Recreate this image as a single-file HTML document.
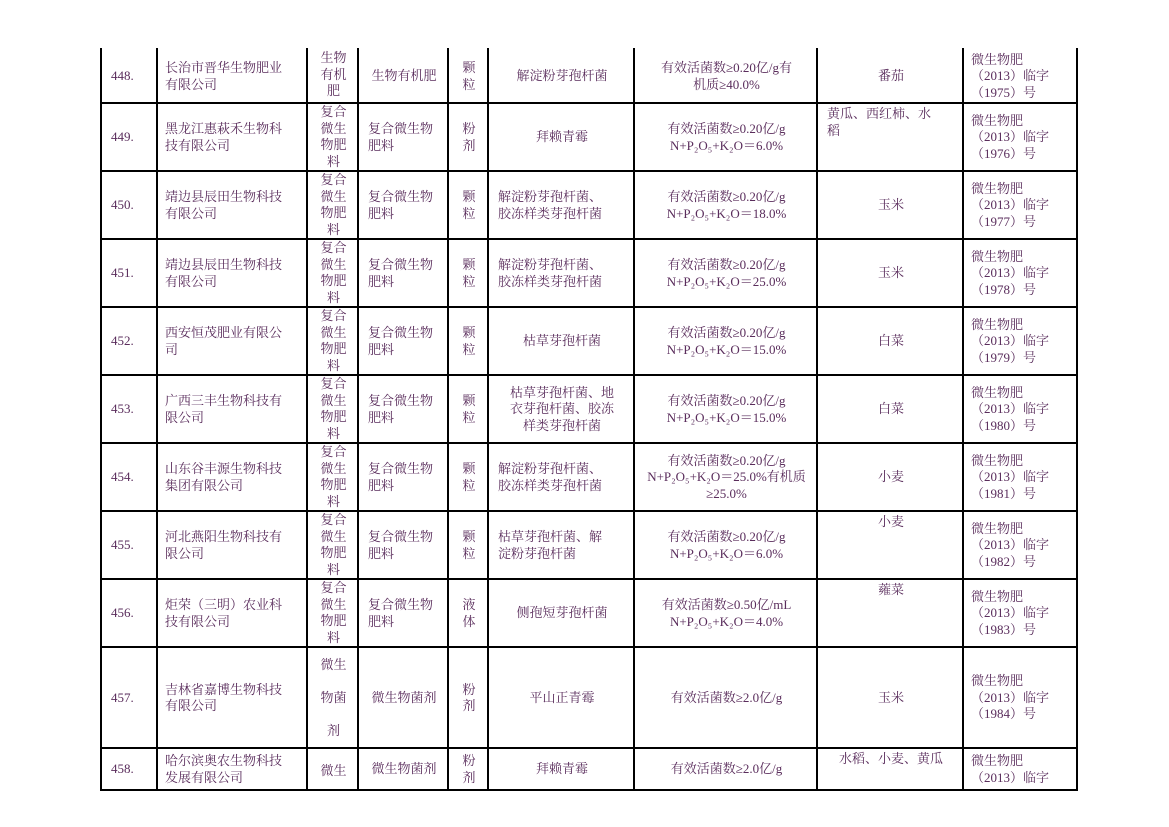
<!DOCTYPE html>
<html><head><meta charset="utf-8"><style>
body{margin:0;width:1169px;height:827px;background:#fff;position:relative;overflow:hidden;font-family:"Liberation Serif","Noto Serif CJK SC",serif;color:#5a2d5c;font-size:13px;}
.c{position:absolute;display:flex;flex-direction:column;justify-content:center;line-height:16.5px;overflow:hidden;box-sizing:border-box;}
.vl{position:absolute;top:48px;height:742px;width:2px;background:#000;}
.hl{position:absolute;left:100px;width:978px;height:2px;background:#000;}
</style></head><body>
<div id="t"></div>
<script>
const cols=[101,157,307,358,448,488,634,817,963,1077];
const rows=[48,103,171,239,307,375,443,511,579,647,748,790];
const data=[
["448.","长治市晋华生物肥业<br>有限公司","生物<br>有机<br>肥","生物有机肥","颗<br>粒","解淀粉芽孢杆菌","有效活菌数≥0.20亿/g有<br>机质≥40.0%","番茄","微生物肥<br>（2013）临字<br>（1975）号"],
["449.","黑龙江惠萩禾生物科<br>技有限公司","复合<br>微生<br>物肥<br>料","复合微生物<br>肥料","粉<br>剂","拜赖青霉","有效活菌数≥0.20亿/g<br>N+P₂O₅+K₂O＝6.0%","黄瓜、西红柿、水<br>稻","微生物肥<br>（2013）临字<br>（1976）号"],
["450.","靖边县辰田生物科技<br>有限公司","复合<br>微生<br>物肥<br>料","复合微生物<br>肥料","颗<br>粒","解淀粉芽孢杆菌、<br>胶冻样类芽孢杆菌","有效活菌数≥0.20亿/g<br>N+P₂O₅+K₂O＝18.0%","玉米","微生物肥<br>（2013）临字<br>（1977）号"],
["451.","靖边县辰田生物科技<br>有限公司","复合<br>微生<br>物肥<br>料","复合微生物<br>肥料","颗<br>粒","解淀粉芽孢杆菌、<br>胶冻样类芽孢杆菌","有效活菌数≥0.20亿/g<br>N+P₂O₅+K₂O＝25.0%","玉米","微生物肥<br>（2013）临字<br>（1978）号"],
["452.","西安恒茂肥业有限公<br>司","复合<br>微生<br>物肥<br>料","复合微生物<br>肥料","颗<br>粒","枯草芽孢杆菌","有效活菌数≥0.20亿/g<br>N+P₂O₅+K₂O＝15.0%","白菜","微生物肥<br>（2013）临字<br>（1979）号"],
["453.","广西三丰生物科技有<br>限公司","复合<br>微生<br>物肥<br>料","复合微生物<br>肥料","颗<br>粒","枯草芽孢杆菌、地<br>衣芽孢杆菌、胶冻<br>样类芽孢杆菌","有效活菌数≥0.20亿/g<br>N+P₂O₅+K₂O＝15.0%","白菜","微生物肥<br>（2013）临字<br>（1980）号"],
["454.","山东谷丰源生物科技<br>集团有限公司","复合<br>微生<br>物肥<br>料","复合微生物<br>肥料","颗<br>粒","解淀粉芽孢杆菌、<br>胶冻样类芽孢杆菌","有效活菌数≥0.20亿/g<br>N+P₂O₅+K₂O＝25.0%有机质<br>≥25.0%","小麦","微生物肥<br>（2013）临字<br>（1981）号"],
["455.","河北燕阳生物科技有<br>限公司","复合<br>微生<br>物肥<br>料","复合微生物<br>肥料","颗<br>粒","枯草芽孢杆菌、解<br>淀粉芽孢杆菌","有效活菌数≥0.20亿/g<br>N+P₂O₅+K₂O＝6.0%","小麦","微生物肥<br>（2013）临字<br>（1982）号"],
["456.","炬荣（三明）农业科<br>技有限公司","复合<br>微生<br>物肥<br>料","复合微生物<br>肥料","液<br>体","侧孢短芽孢杆菌","有效活菌数≥0.50亿/mL<br>N+P₂O₅+K₂O＝4.0%","蕹菜","微生物肥<br>（2013）临字<br>（1983）号"],
["457.","吉林省嘉博生物科技<br>有限公司","微生<br><br>物菌<br><br>剂","微生物菌剂","粉<br>剂","平山正青霉","有效活菌数≥2.0亿/g","玉米","微生物肥<br>（2013）临字<br>（1984）号"],
["458.","哈尔滨奥农生物科技<br>发展有限公司","微生","微生物菌剂","粉<br>剂","拜赖青霉","有效活菌数≥2.0亿/g","水稻、小麦、黄瓜","微生物肥<br>（2013）临字"]
];
const names=["row-number","company","product-type","category","form","strain","content","crop","certificate"];
const t=document.getElementById('t');
data.forEach((r,i)=>{
  const y0=rows[i]+(i==0?2:1),y1=rows[i+1];
  r.forEach((txt,j)=>{
    const d=document.createElement('div');
    d.className='c';
    
    
    let x0=cols[j]+2,x1=cols[j+1];
    d.style.left=x0+'px';d.style.width=(x1-x0)+'px';d.style.top=y0+'px';d.style.height=(y1-y0)+'px';
    let align='center',pad='0 4px',jc='center';
    if(j==0){align='left';pad='0 0 0 8px';}
    if(j==1||j==8){align='left';pad='0 0 0 6px';}
    if(j==3&&txt.includes('<br>')){align='left';pad='0 0 0 8px';}
    if(j==5&&txt.split('<br>').length==2){align='left';pad='0 0 0 8px';}
    if(j==2){jc=(i==9||i==10)?'center':'flex-start';if(i==9)d.style.lineHeight='16.5px';}
    if(j==7){
      if(i==1){align='left';pad='2px 0 0 8px';jc='flex-start';}
      else if(i==7||i==8||i==10){jc='flex-start';pad='2px 4px 0';}
    }
    if(j==2&&i==10){pad='14px 0 0';jc='flex-start';}
    d.style.textAlign=align;d.style.padding=pad;d.style.justifyContent=jc;
    d.innerHTML='<div>'+txt+'</div>';
    t.appendChild(d);
  });
});
cols.forEach((x,k)=>{const v=document.createElement('div');v.className='vl';


v.style.left=(x-1)+'px';t.appendChild(v);});
rows.slice(1).forEach(y=>{const h=document.createElement('div');h.className='hl';


h.style.top=(y-1)+'px';t.appendChild(h);});
</script>
</body></html>
